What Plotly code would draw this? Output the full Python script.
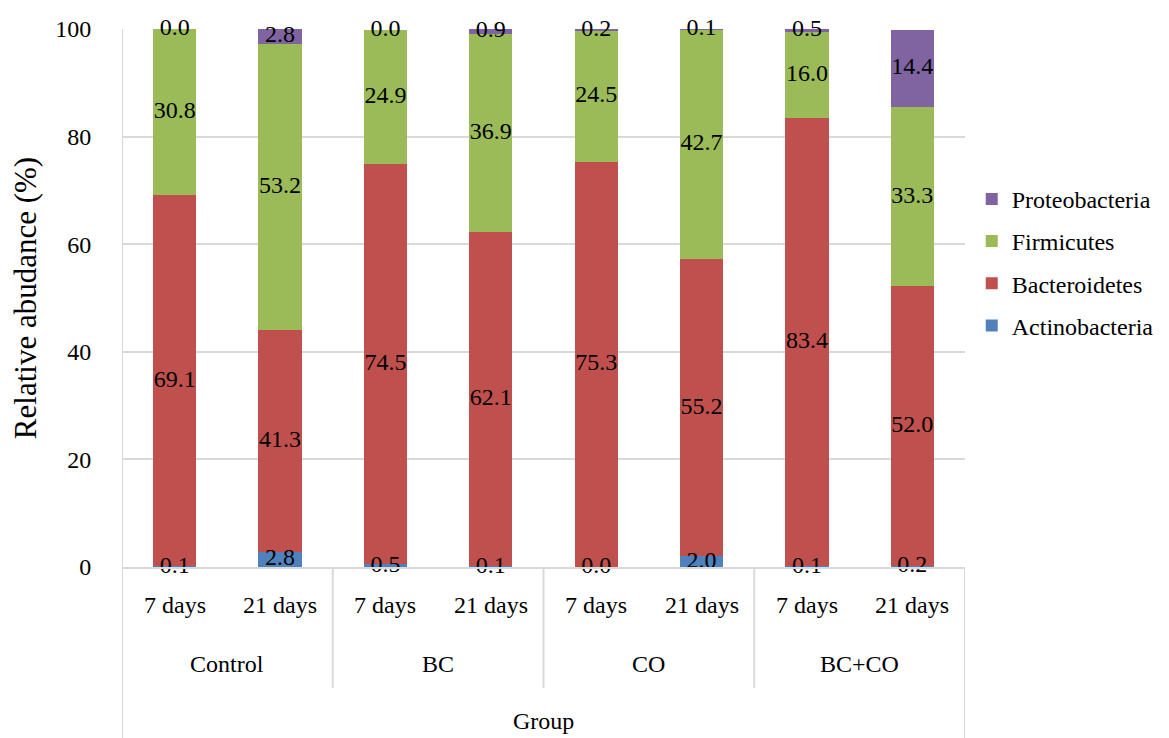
import plotly.graph_objects as go

groups = ["Control", "Control", "BC", "BC", "CO", "CO", "BC+CO", "BC+CO"]
days = ["7 days", "21 days", "7 days", "21 days", "7 days", "21 days", "7 days", "21 days"]
group_names = ["Control", "BC", "CO", "BC+CO"]

actinobacteria = [0.1, 2.8, 0.5, 0.1, 0.0, 2.0, 0.1, 0.2]
bacteroidetes = [69.1, 41.3, 74.5, 62.1, 75.3, 55.2, 83.4, 52.0]
firmicutes = [30.8, 53.2, 24.9, 36.9, 24.5, 42.7, 16.0, 33.3]
proteobacteria = [0.0, 2.8, 0.0, 0.9, 0.2, 0.1, 0.5, 14.4]

series = [
    ("Actinobacteria", actinobacteria, "#4F81BD"),
    ("Bacteroidetes", bacteroidetes, "#C0504D"),
    ("Firmicutes", firmicutes, "#9BBB59"),
    ("Proteobacteria", proteobacteria, "#8064A2"),
]

FONT = "Liberation Serif"
FS = 24
cats = [f"{g}|{d}" for g, d in zip(groups, days)]

fig = go.Figure()
base = [0.0] * len(cats)
label_traces = []
n = len(series)
for i, (name, vals, color) in enumerate(series):
    fig.add_trace(go.Bar(
        x=cats, y=vals, name=name, marker=dict(color=color, line=dict(width=0)),
        width=0.41, legendgroup=name, legendrank=n - i, hoverinfo="y+name",
    ))
    mids = [b + v / 2 for b, v in zip(base, vals)]
    label_traces.append(go.Scatter(
        x=cats, y=mids, mode="text", text=[f"{v:.1f}" for v in vals],
        textfont=dict(family=FONT, size=FS, color="black"),
        showlegend=False, hoverinfo="skip", cliponaxis=False,
    ))
    base = [b + v for b, v in zip(base, vals)]
for t in label_traces:
    fig.add_trace(t)

# page has an 8px body margin; plot area target in page px: x 122..965, y 29..567
def py(p):
    return (567 - p) / 538.0

annotations = []
for i, d in enumerate(days):
    annotations.append(dict(x=i, y=py(605), xref="x", yref="paper", text=d, showarrow=False,
                            xanchor="center", yanchor="middle",
                            font=dict(family=FONT, size=FS, color="black")))
for j, g in enumerate(group_names):
    annotations.append(dict(x=2 * j + 0.5, y=py(664), xref="x", yref="paper", text=g, showarrow=False,
                            xanchor="center", yanchor="middle",
                            font=dict(family=FONT, size=FS, color="black")))
annotations.append(dict(x=3.5, y=py(721), xref="x", yref="paper", text="Group", showarrow=False,
                        xanchor="center", yanchor="middle",
                        font=dict(family=FONT, size=FS, color="black")))

line_col = "#D9D9D9"
shapes = []
for xd in [1.5, 3.5, 5.5]:
    shapes.append(dict(type="line", xref="x", yref="paper", x0=xd, x1=xd, y0=0, y1=py(688),
                       line=dict(color=line_col, width=2)))
shapes.append(dict(type="line", xref="x", yref="paper", x0=-0.5, x1=-0.5, y0=1, y1=py(745),
                   line=dict(color=line_col, width=2)))
shapes.append(dict(type="line", xref="x", yref="paper", x0=7.5, x1=7.5, y0=0, y1=py(745),
                   line=dict(color=line_col, width=2)))

fig.update_layout(
    width=1161, height=730,
    margin=dict(l=114, r=204, t=21, b=171, autoexpand=False),
    plot_bgcolor="white", paper_bgcolor="white",
    barmode="stack",
    font=dict(family=FONT, size=FS, color="black"),
    showlegend=True,
    legend=dict(x=1.008, xanchor="left", xref="paper", y=py(201) + 0.045, yanchor="top",
                traceorder="grouped", tracegroupgap=8,
                font=dict(family=FONT, size=24, color="black"),
                itemwidth=30, bgcolor="rgba(0,0,0,0)", borderwidth=0),
    xaxis=dict(type="category", range=[-0.5, 7.5], showticklabels=False, showgrid=False,
               showline=True, linecolor=line_col, linewidth=2, ticks="", zeroline=False,
               fixedrange=True),
    yaxis=dict(range=[0, 100], dtick=20, showgrid=True, gridcolor=line_col, gridwidth=2,
               showline=False, zeroline=False, ticks="outside", ticklen=25,
               tickcolor="rgba(0,0,0,0)", tickfont=dict(family=FONT, size=FS, color="black"),
               title=dict(text="Relative abudance (%)", font=dict(family=FONT, size=31, color="black"), standoff=20)),
    annotations=annotations,
    shapes=shapes,
    bargap=0.59,
)

fig.write_html("out.html")
